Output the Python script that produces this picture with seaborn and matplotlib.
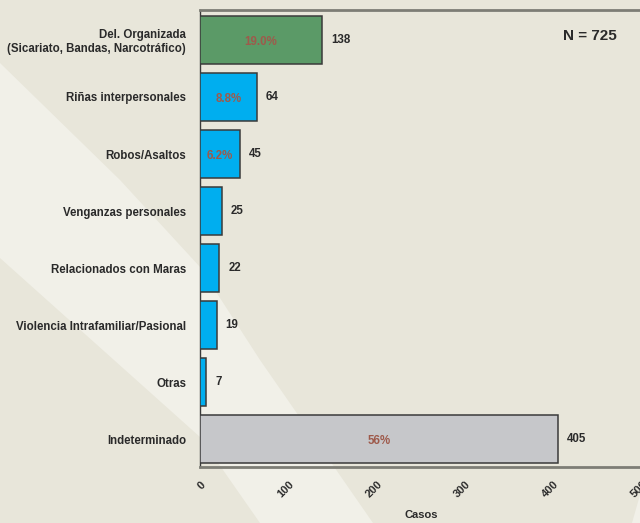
import matplotlib
matplotlib.use('Agg')
import matplotlib.pyplot as plt
import seaborn as sns
import pandas as pd
from matplotlib.patches import Polygon

categorias = ['Del. Organizada\n(Sicariato, Bandas, Narcotráfico)', 'Riñas interpersonales',
              'Robos/Asaltos', 'Venganzas personales', 'Relacionados con Maras',
              'Violencia Intrafamiliar/Pasional', 'Otras', 'Indeterminado']
casos = [138, 64, 45, 25, 22, 19, 7, 405]
porcentajes = ['19.0%', '8.8%', '6.2%', '', '', '', '', '56%']
colores = ['#5b9a67', '#00aeef', '#00aeef', '#00aeef', '#00aeef', '#00aeef', '#00aeef', '#c6c7ca']
ticks_x = [0, 100, 200, 300, 400, 500]

dados = pd.DataFrame({'Categoria': categorias, 'Casos': casos})

sns.set_style('white')
plt.rcParams['font.family'] = ['Liberation Sans', 'DejaVu Sans']

W, H = 640, 523
fig = plt.figure(figsize=(6.4, 5.23), dpi=100)
fig.patch.set_facecolor('#e8e6da')


def px(pts):
    return [(x / W, 1 - y / H) for x, y in pts]


# franja clara diagonal del fondo
banda = Polygon(px([(0, 63), (120, 180), (200, 267), (260, 360), (373, 523),
                    (260, 523), (200, 437), (0, 258)]),
                closed=True, transform=fig.transFigure, facecolor='#f1f0e8',
                edgecolor='none', zorder=-5)
fig.patches.append(banda)
esquina = Polygon(px([(640, 495), (640, 523), (632, 523)]), closed=True,
                  transform=fig.transFigure, facecolor='#f1f0e8', edgecolor='none', zorder=-5)
fig.patches.append(esquina)

ax = fig.add_axes([200 / W, 1 - 467 / H, 442 / W, 457 / H])
ax.set_facecolor('none')

sns.barplot(data=dados, x='Casos', y='Categoria', hue='Categoria', palette=colores,
            saturation=1, legend=False, orient='h', width=0.84, edgecolor='#3a3a3a',
            linewidth=1.1, ax=ax, zorder=3)

ax.set_xlim(0, 500)
ax.set_ylim(7.49, -0.526)
ax.set_xticks(ticks_x)
ax.set_xticklabels([str(t) for t in ticks_x], rotation=45, ha='right', va='top',
                   rotation_mode='anchor', fontsize=8, fontweight='bold', color='#2a2a2a')
ax.set_yticks(range(len(categorias)))
ax.set_yticklabels(categorias, fontsize=8.3, fontweight='bold', color='#2a2a2a')
ax.tick_params(axis='y', direction='inout', length=14, width=1, color='#2a2a2a', pad=3)
ax.tick_params(axis='x', direction='out', length=6, width=1.2, color='#555550', pad=3)
ax.set_ylabel('')
ax.set_xlabel('Casos', fontsize=8, fontweight='bold', color='#2a2a2a')
ax.xaxis.set_label_coords(0.5, -0.094)

for lado in ['top', 'bottom']:
    ax.spines[lado].set_color('#7d7d75')
    ax.spines[lado].set_linewidth(2)
ax.spines['left'].set_color('#3a3a3a')
ax.spines['left'].set_linewidth(1)
ax.spines['right'].set_visible(False)

for i, (v, p) in enumerate(zip(casos, porcentajes)):
    ax.text(v + 10, i, str(v), va='center', ha='left', fontsize=8.3,
            fontweight='bold', color='#2a2a2a', zorder=5)
    if p:
        ax.text(v / 2, i + 0.04, p, va='center', ha='center', fontsize=8.3,
                fontweight='bold', color='#9e5a4b', zorder=5)

fig.text(590 / W, 1 - 36 / H, 'N = 725', ha='center', va='center', fontsize=11,
         fontweight='bold', color='#2a2a2a')

fig.savefig('out.png', dpi=100, facecolor=fig.get_facecolor())
